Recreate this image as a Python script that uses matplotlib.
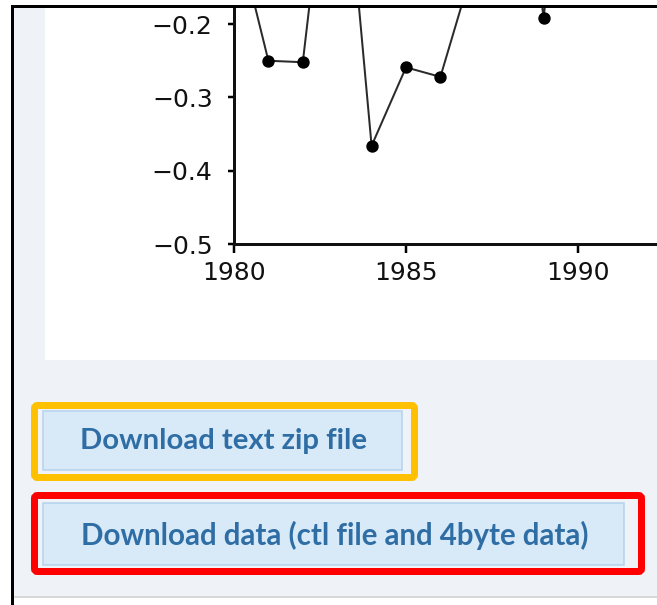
import matplotlib
matplotlib.use("Agg")
import matplotlib.pyplot as plt
from matplotlib.patches import Rectangle, FancyBboxPatch

# ---- data ----
years = [1980, 1981, 1982, 1983, 1984, 1985, 1986, 1987, 1988, 1989, 1990, 1991, 1992]
values = [-0.06, -0.250, -0.252, 0.15, -0.366, -0.259, -0.272, -0.114, 0.20, -0.192, 0.25, 0.10, 0.20]
xticks = [1980, 1985, 1990]
yticks = [-0.5, -0.4, -0.3, -0.2]
ytick_labels = ["\u22120.5", "\u22120.4", "\u22120.3", "\u22120.2"]
button_texts = ["Download text zip file", "Download data (ctl file and 4byte data)"]

W, H = 657, 605
fig = plt.figure(figsize=(W / 100, H / 100), dpi=100)
fig.patch.set_facecolor("white")

PX = 72 / 100  # points per pixel

# ---- background page (pixel coordinates, y downward) ----
bg = fig.add_axes([0, 0, 1, 1], zorder=0)
bg.set_xlim(0, W)
bg.set_ylim(H, 0)
bg.axis("off")
page = "#eff3f7"
bg.add_patch(Rectangle((13, 7), W - 13, 589, facecolor=page, edgecolor="none"))
bg.add_patch(Rectangle((45, 7), W - 45, 353, facecolor="white", edgecolor="none"))
bg.add_patch(Rectangle((13, 596), W - 13, 2, facecolor="#d8d8d8", edgecolor="none"))

# highlight boxes
bg.add_patch(FancyBboxPatch((34.5, 405.5), 380, 72, boxstyle="round,pad=0,rounding_size=3",
                            facecolor="none", edgecolor="#ffc000", linewidth=7 * PX))
bg.add_patch(FancyBboxPatch((34.5, 495.5), 607, 76, boxstyle="round,pad=0,rounding_size=3",
                            facecolor="none", edgecolor="#ff0000", linewidth=7 * PX))
# buttons
btns = [(43, 411, 359, 59), (43, 503, 581, 62)]
targets = [288, 510]
fig.canvas.draw()
renderer = fig.canvas.get_renderer()
for (bx, by, bw, bh), txt, tw in zip(btns, button_texts, targets):
    bg.add_patch(Rectangle((bx, by), bw, bh, facecolor="#d8e9f8", edgecolor="#b3d2ee", linewidth=1.5 * PX))
    t = bg.text(bx + bw / 2 + 1.5, by + bh / 2 + 1, txt, ha="center", va="center",
                fontsize=18, fontweight="bold", color="#2f6ea5", family="Lato")
    w = t.get_window_extent(renderer).width
    t.set_fontsize(18 * tw / w)

# ---- chart axes ----
left, right, top, bottom = 234, 657, 7, 244
ax = fig.add_axes([left / W, (H - bottom) / H, (right - left) / W, (bottom - top) / H], zorder=1)
ax.set_facecolor("white")
ax.plot(years, values, color="#2a2a2a", linewidth=2 * PX, marker="o",
        markersize=11 * PX, markerfacecolor="black", markeredgecolor="black", clip_on=True)
ax.set_xlim(1980, 1980 + (right - left) / 34.4)
ax.set_ylim(-0.5, -0.5 + (bottom - top) / 733.0)
ax.set_xticks(xticks)
ax.set_xticklabels([str(x) for x in xticks])
ax.set_yticks(yticks)
ax.set_yticklabels(ytick_labels)
for s in ["top", "right"]:
    ax.spines[s].set_visible(False)
for s in ["left", "bottom"]:
    ax.spines[s].set_linewidth(3 * PX)
    ax.spines[s].set_color("#111111")
ax.tick_params(axis="x", direction="out", length=9 * PX, width=2.5 * PX, pad=6, labelsize=18)
ax.tick_params(axis="y", direction="out", length=6 * PX, width=2.5 * PX, pad=11, labelsize=18)
for lab in ax.get_xticklabels() + ax.get_yticklabels():
    lab.set_family("DejaVu Sans")
    lab.set_color("#111111")

# ---- foreground frame lines ----
fg = fig.add_axes([0, 0, 1, 1], zorder=2)
fg.set_xlim(0, W)
fg.set_ylim(H, 0)
fg.axis("off")
fg.patch.set_alpha(0)
fg.add_patch(Rectangle((11, 4.5), W - 11, 3, facecolor="black", edgecolor="none"))
fg.add_patch(Rectangle((10.5, 4.5), 3, H - 4.5, facecolor="black", edgecolor="none"))

fig.savefig("out.png", dpi=100, facecolor="white")
